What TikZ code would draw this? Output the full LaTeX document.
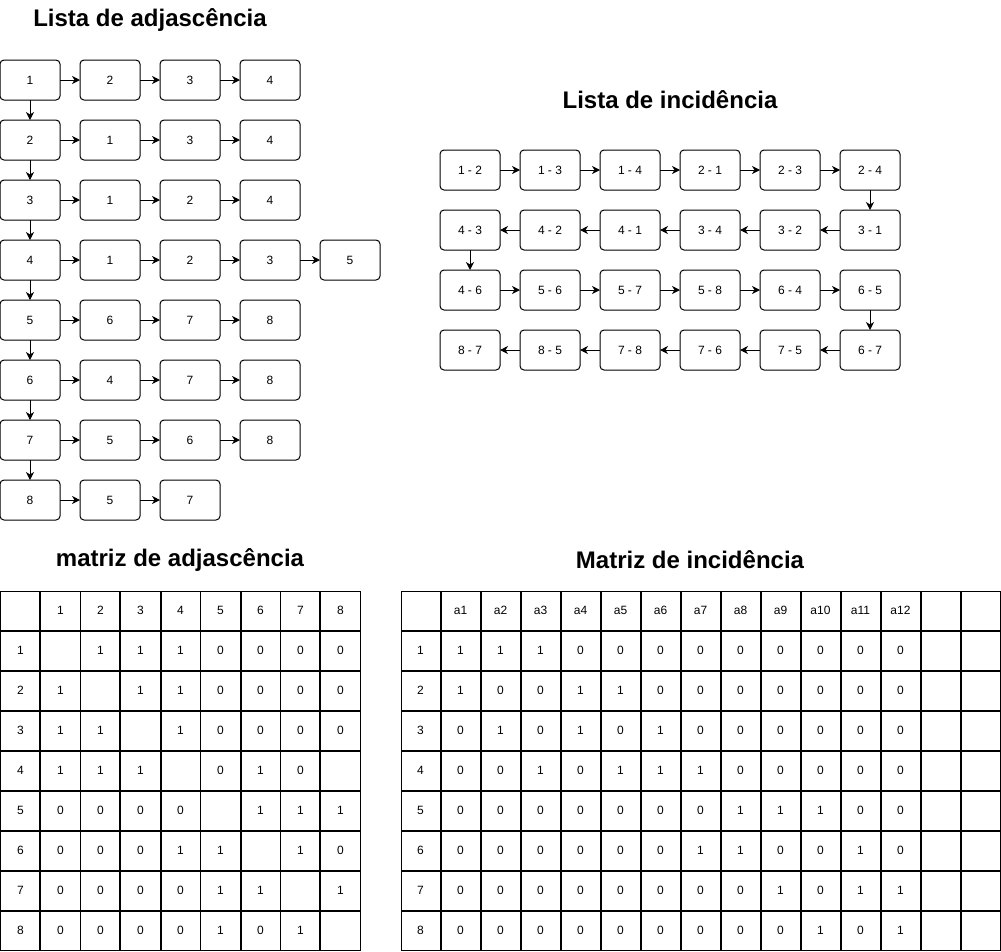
\documentclass[tikz,border=0pt]{standalone}
\usepackage{fontspec}
\setmainfont{Liberation Sans}
\usetikzlibrary{arrows.meta,matrix}
\tikzset{
  box/.style={draw, line width=1pt, rounded corners=4pt, minimum width=60pt, minimum height=40pt, inner sep=0pt, outer sep=0pt, font=\fontsize{12}{14}\selectfont},
  arr/.style={line width=1pt, -{Stealth[length=8pt,width=8pt,inset=2.5pt]}},
  ttl/.style={font=\fontsize{24}{28}\selectfont\bfseries, inner sep=0pt},
  cell/.style={draw, line width=1pt, minimum width=39pt, minimum height=39pt, inner sep=0pt, outer sep=0pt, anchor=center, font=\fontsize{12}{14}\selectfont},
  tbl/.style={matrix of nodes, nodes in empty cells, nodes={cell}, column sep=0pt, row sep=0pt, inner sep=0pt, outer sep=0pt, anchor=north west}
}
\begin{document}
\begin{tikzpicture}[x=1pt,y=-1pt]
\useasboundingbox (0,0) rectangle (1001,951);

% titles
\node[ttl] (t1) at (150,20) {Lista de adjascência};
\node[ttl] (t2) at (670,100) {Lista de incidência};
\node[ttl] (t3) at (180,560) {matriz de adjascência};
\node[ttl] (t4) at (690,560) {Matriz de incidência};

% adjacency list
\foreach \r/\lst in {1/{1,2,3,4},2/{2,1,3,4},3/{3,1,2,4},4/{4,1,2,3,5},5/{5,6,7,8},6/{6,4,7,8},7/{7,5,6,8},8/{8,5,7}}{
  \foreach \v [count=\c from 0] in \lst {
    \node[box] (a\r-\c) at (30+80*\c, 80+60*\r-60) {\v};
    \ifnum\c>0
      \pgfmathtruncatemacro\p{\c-1}
      \draw[arr] (a\r-\p) -- (a\r-\c);
    \fi
  }
}
\foreach \r [evaluate=\r as \n using int(\r+1)] in {1,...,7}{
  \draw[arr] (a\r-0) -- (a\n-0);
}

% incidence list
\foreach \row/\lst in {1/{1 - 2,1 - 3,1 - 4,2 - 1,2 - 3,2 - 4},2/{4 - 3,4 - 2,4 - 1,3 - 4,3 - 2,3 - 1},3/{4 - 6,5 - 6,5 - 7,5 - 8,6 - 4,6 - 5},4/{8 - 7,8 - 5,7 - 8,7 - 6,7 - 5,6 - 7}}{
  \foreach \v [count=\c] in \lst {
    \node[box] (e\row-\c) at (390+80*\c, 110+60*\row) {\v};
  }
}
\foreach \c [evaluate=\c as \n using int(\c+1)] in {1,...,5}{
  \draw[arr] (e1-\c) -- (e1-\n);
  \draw[arr] (e2-\n) -- (e2-\c);
  \draw[arr] (e3-\c) -- (e3-\n);
  \draw[arr] (e4-\n) -- (e4-\c);
}
\draw[arr] (e1-6) -- (e2-6);
\draw[arr] (e2-1) -- (e3-1);
\draw[arr] (e3-6) -- (e4-6);

% adjacency matrix
\matrix[tbl] (adjm) at (0.5,590.5) {
   & 1 & 2 & 3 & 4 & 5 & 6 & 7 & 8 \\
 1 &   & 1 & 1 & 1 & 0 & 0 & 0 & 0 \\
 2 & 1 &   & 1 & 1 & 0 & 0 & 0 & 0 \\
 3 & 1 & 1 &   & 1 & 0 & 0 & 0 & 0 \\
 4 & 1 & 1 & 1 &   & 0 & 1 & 0 &   \\
 5 & 0 & 0 & 0 & 0 &   & 1 & 1 & 1 \\
 6 & 0 & 0 & 0 & 1 & 1 &   & 1 & 0 \\
 7 & 0 & 0 & 0 & 0 & 1 & 1 &   & 1 \\
 8 & 0 & 0 & 0 & 0 & 1 & 0 & 1 &   \\
};

% incidence matrix
\matrix[tbl] (incm) at (400.5,590.5) {
   & a1 & a2 & a3 & a4 & a5 & a6 & a7 & a8 & a9 & a10 & a11 & a12 & & \\
 1 & 1 & 1 & 1 & 0 & 0 & 0 & 0 & 0 & 0 & 0 & 0 & 0 & & \\
 2 & 1 & 0 & 0 & 1 & 1 & 0 & 0 & 0 & 0 & 0 & 0 & 0 & & \\
 3 & 0 & 1 & 0 & 1 & 0 & 1 & 0 & 0 & 0 & 0 & 0 & 0 & & \\
 4 & 0 & 0 & 1 & 0 & 1 & 1 & 1 & 0 & 0 & 0 & 0 & 0 & & \\
 5 & 0 & 0 & 0 & 0 & 0 & 0 & 0 & 1 & 1 & 1 & 0 & 0 & & \\
 6 & 0 & 0 & 0 & 0 & 0 & 0 & 1 & 1 & 0 & 0 & 1 & 0 & & \\
 7 & 0 & 0 & 0 & 0 & 0 & 0 & 0 & 0 & 1 & 0 & 1 & 1 & & \\
 8 & 0 & 0 & 0 & 0 & 0 & 0 & 0 & 0 & 0 & 1 & 0 & 1 & & \\
};
\end{tikzpicture}
\end{document}
